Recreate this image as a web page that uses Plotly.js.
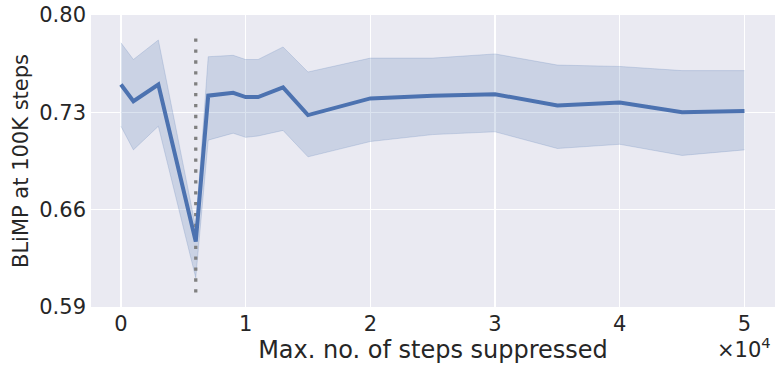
<!DOCTYPE html>
<html>
<head>
<meta charset="utf-8">
<script src="https://cdn.plot.ly/plotly-3.0.1.min.js"></script>
<style>
  body { margin: 0; background: #fff; }
  #chart { width: 781px; height: 371px; }
</style>
</head>
<body>
<div id="chart"></div>
<script>
const steps = [0, 1000, 3000, 6000, 7000, 9000, 10000, 11000, 13000, 15000, 20000, 25000, 30000, 35000, 40000, 45000, 50000];
const blimpMean = [0.750, 0.738, 0.750, 0.637, 0.742, 0.744, 0.741, 0.741, 0.748, 0.728, 0.740, 0.742, 0.743, 0.735, 0.737, 0.730, 0.731];
const blimpUpper = [0.780, 0.768, 0.782, 0.647, 0.770, 0.771, 0.768, 0.768, 0.777, 0.759, 0.769, 0.769, 0.772, 0.764, 0.763, 0.760, 0.760];
const blimpLower = [0.720, 0.703, 0.720, 0.611, 0.710, 0.715, 0.712, 0.713, 0.717, 0.698, 0.709, 0.714, 0.716, 0.704, 0.707, 0.699, 0.703];
const markerStep = 6000;
const markerRange = [0.6004, 0.7878];
const yTicks = [0.59, 0.66, 0.73, 0.80];
const xTicks = [0, 10000, 20000, 30000, 40000, 50000];
const xTickText = ['0', '1', '2', '3', '4', '5'];

const blue = '#4C72B0';
const font = 'DejaVu Sans, sans-serif';

const traces = [
  {
    x: steps, y: blimpUpper, type: 'scatter', mode: 'lines',
    line: { width: 0.8, color: 'rgba(76,114,176,0.25)' },
    hoverinfo: 'skip', showlegend: false
  },
  {
    x: steps, y: blimpLower, type: 'scatter', mode: 'lines',
    fill: 'tonexty', fillcolor: 'rgba(76,114,176,0.2)',
    line: { width: 0.8, color: 'rgba(76,114,176,0.25)' },
    hoverinfo: 'skip', showlegend: false
  },
  {
    x: [markerStep, markerStep], y: markerRange, type: 'scatter', mode: 'lines',
    line: { color: 'grey', width: 3.3, dash: '3.3px,7.6px' },
    showlegend: false
  },
  {
    x: steps, y: blimpMean, type: 'scatter', mode: 'lines',
    line: { color: blue, width: 4 },
    showlegend: false
  }
];

const layout = {
  width: 781,
  height: 371,
  margin: { t: 15, r: 6, b: 64, l: 91 },
  paper_bgcolor: '#ffffff',
  plot_bgcolor: '#EAEAF2',
  font: { family: font, size: 21, color: '#262626' },
  xaxis: {
    range: [-2400, 52450],
    tickvals: xTicks,
    ticktext: xTickText,
    showgrid: true,
    gridcolor: '#ffffff',
    gridwidth: 1.2,
    zeroline: false,
    showline: false,
    ticks: '',
    ticklabelstandoff: 2,
    automargin: false,
    title: { text: 'Max. no. of steps suppressed', font: { size: 24 }, standoff: 0 }
  },
  yaxis: {
    range: [0.59, 0.80],
    tickvals: yTicks,
    ticktext: yTicks.map(v => v.toFixed(2)),
    showgrid: true,
    gridcolor: '#ffffff',
    gridwidth: 1.2,
    zeroline: false,
    showline: false,
    ticks: '',
    ticklabelstandoff: 4,
    automargin: false,
    title: { text: 'BLiMP at 100K steps', font: { size: 21 }, standoff: 4 }
  },
  annotations: [{
    xref: 'paper', yref: 'paper',
    x: 1, xshift: -2, y: -0.085,
    xanchor: 'right', yanchor: 'top',
    text: '×10<sup>4</sup>',
    showarrow: false,
    font: { size: 21, color: '#262626' }
  }]
};

Plotly.newPlot('chart', traces, layout, { displayModeBar: false, staticPlot: true });
</script>
</body>
</html>
